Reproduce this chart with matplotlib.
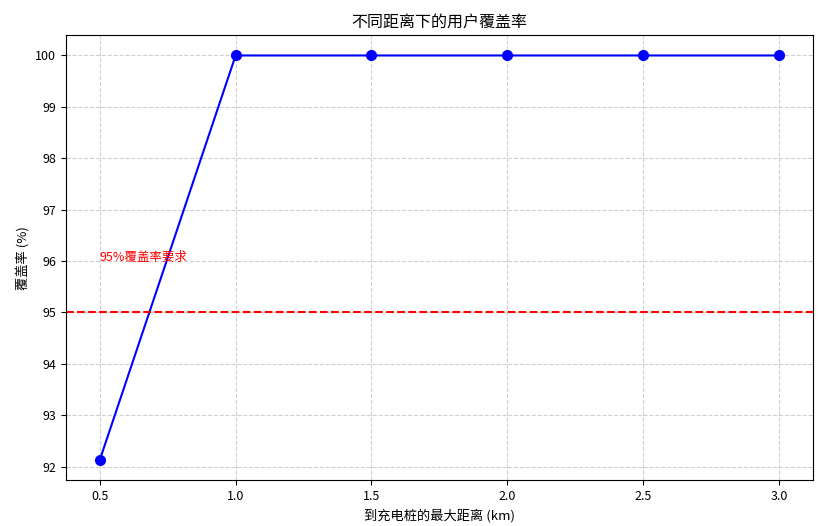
import matplotlib
matplotlib.use("Agg")
import matplotlib.pyplot as plt

plt.rcParams["font.family"] = ["Noto Sans CJK SC", "DejaVu Sans"]
plt.rcParams["axes.unicode_minus"] = False

# max distance to charging pile (km) and user coverage (%)
distances = [0.5, 1.0, 1.5, 2.0, 2.5, 3.0]
coverage = [92.13, 100.0, 100.0, 100.0, 100.0, 100.0]
target = 95

fig, ax = plt.subplots(figsize=(8.33, 5.26), dpi=100)
fig.subplots_adjust(left=0.079, right=0.976, top=0.933, bottom=0.087)

ax.plot(distances, coverage, marker="o", color="blue", linewidth=1.5, markersize=7)
ax.axhline(target, color="red", linestyle="--", linewidth=1.5)
ax.text(0.5, 96, "95%覆盖率要求", color="red", fontsize=9)

ax.set_title("不同距离下的用户覆盖率", fontsize=11.5)
ax.set_xlabel("到充电桩的最大距离 (km)", fontsize=9.5)
ax.set_ylabel("覆盖率 (%)", fontsize=9.5)
ax.tick_params(labelsize=9)
ax.grid(True, linestyle="--", alpha=0.6)

fig.savefig("out.png", dpi=100)
